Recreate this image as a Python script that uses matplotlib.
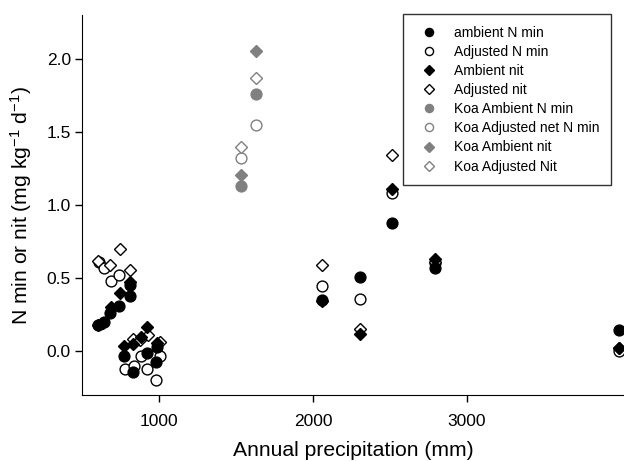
import matplotlib

matplotlib.use("Agg")

import matplotlib.pyplot as plt

plt.rcParams["font.family"] = ["Liberation Sans", "DejaVu Sans"]
plt.rcParams["mathtext.fontset"] = "custom"
plt.rcParams["mathtext.rm"] = "Liberation Sans"
plt.rcParams["mathtext.it"] = "Liberation Sans"
plt.rcParams["axes.unicode_minus"] = False

# Dry sites (lower cluster) and wet sites, annual precipitation (mm)
amb_nmin_x = [603, 641, 680, 738, 809, 809, 770, 829, 920, 978, 985,
              2056, 2303, 2511, 2790, 3990]
amb_nmin_y = [0.18, 0.20, 0.26, 0.31, 0.38, 0.45, -0.03, -0.14, -0.015, -0.075, 0.03,
              0.35, 0.51, 0.88, 0.57, 0.145]

adj_nmin_x = [608, 641, 686, 738, 777, 835, 885, 920, 978, 1005,
              2056, 2303, 2511, 2790, 3990]
adj_nmin_y = [0.61, 0.57, 0.48, 0.52, -0.12, -0.10, -0.03, -0.125, -0.20, -0.03,
              0.445, 0.36, 1.08, 0.60, 0.0]

amb_nit_x = [603, 636, 686, 744, 810, 773, 831, 885, 920, 985,
             2056, 2303, 2511, 2790, 3990]
amb_nit_y = [0.18, 0.19, 0.30, 0.40, 0.47, 0.035, 0.05, 0.10, 0.165, 0.055,
             0.34, 0.12, 1.11, 0.63, 0.025]

adj_nit_x = [603, 680, 744, 810, 831, 874, 926, 1005,
             2056, 2303, 2511, 2790, 3990]
adj_nit_y = [0.62, 0.59, 0.70, 0.555, 0.08, 0.075, 0.11, 0.065,
             0.59, 0.15, 1.34, 0.61, 0.02]

koa_x = [1531, 1628]
koa_amb_nmin = [1.13, 1.76]
koa_adj_nmin = [1.32, 1.55]
koa_amb_nit = [1.205, 2.055]
koa_adj_nit = [1.395, 1.87]

grey = "#808080"

fig = plt.figure(figsize=(6.24, 4.61), dpi=100)
ax = fig.add_axes([82 / 624, 66 / 461, 542 / 624, 380 / 461])

ms = 7.8
ax.plot(adj_nmin_x, adj_nmin_y, "o", ms=ms, mfc="white", mec="black", mew=1,
        label="Adjusted N min", zorder=2)
ax.plot(adj_nit_x, adj_nit_y, "D", ms=ms * 0.8, mfc="white", mec="black", mew=1,
        label="Adjusted nit", zorder=2)
ax.plot(amb_nmin_x, amb_nmin_y, "o", ms=ms, color="black",
        label="ambient N min", zorder=3)
ax.plot(amb_nit_x, amb_nit_y, "D", ms=ms * 0.8, color="black",
        label="Ambient nit", zorder=4)
ax.plot(koa_x, koa_amb_nmin, "o", ms=ms, color=grey, label="Koa Ambient N min")
ax.plot(koa_x, koa_adj_nmin, "o", ms=ms, mfc="white", mec=grey, mew=1,
        label="Koa Adjusted net N min")
ax.plot(koa_x, koa_amb_nit, "D", ms=ms * 0.8, color=grey, label="Koa Ambient nit")
ax.plot(koa_x, koa_adj_nit, "D", ms=ms * 0.8, mfc="white", mec=grey, mew=1,
        label="Koa Adjusted Nit")

ax.set_xlim(500, 4020)
ax.set_ylim(-0.3, 2.3)
ax.set_xticks([1000, 2000, 3000])
ax.set_yticks([0.0, 0.5, 1.0, 1.5, 2.0])
ax.set_yticklabels(["0.0", "0.5", "1.0", "1.5", "2.0"])
ax.tick_params(direction="out", length=5, width=1, labelsize=12.5)
ax.tick_params(axis="x", pad=9)
ax.tick_params(axis="y", pad=3)
for side in ("top", "right"):
    ax.spines[side].set_visible(False)

ax.set_xlabel("Annual precipitation (mm)", fontsize=15.2, labelpad=8)
ax.set_ylabel("N min or nit (mg kg$^{-1}$ d$^{-1}$)", fontsize=15.2, labelpad=9)

# legend in the original order
handles, labels = ax.get_legend_handles_labels()
order = ["ambient N min", "Adjusted N min", "Ambient nit", "Adjusted nit",
         "Koa Ambient N min", "Koa Adjusted net N min", "Koa Ambient nit",
         "Koa Adjusted Nit"]
hmap = dict(zip(labels, handles))
leg = ax.legend([hmap[k] for k in order], order, loc="upper right",
                bbox_to_anchor=(0.976, 1.003), borderaxespad=0, fontsize=10,
                frameon=True, fancybox=False, edgecolor="black", markerscale=0.75,
                handletextpad=0.8, labelspacing=0.37, borderpad=0.85,
                handlelength=2.0)
leg.get_frame().set_linewidth(1)

fig.savefig("out.png", dpi=100)
